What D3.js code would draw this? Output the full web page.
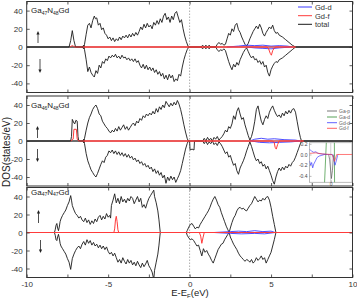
<!DOCTYPE html>
<html><head><meta charset="utf-8">
<script src="https://cdn.jsdelivr.net/npm/d3@7"></script>
<style>
body{margin:0;background:#fff}
svg{display:block;font-family:"Liberation Sans",Arial,sans-serif}
</style>
</head><body><svg id="c" width="357" height="299"></svg>
<script>
// ---------- data ----------
const xTicks = [-10,-7.5,-5,-2.5,0,2.5,5,7.5,10];
const xLabels = [-10,-5,0,5,10];
const yTicks = [-40,-20,0,20,40];
const sysLabels = [["Ga","47","N","48","Gd"],["Ga","46","N","48","Gd"],["Ga","47","N","47","Gd"]];
const legend1 = ["Gd-d","Gd-f","total"];
const legend2 = ["Ga-p","Ga-d","Gd-d","Gd-f"];
const insetTicks = [0.2,0.0,-0.2,-0.4];

// Panel 1: Ga47N48Gd  [E, DOS]
const p1Up = [[-10,0],[-7.5,0],[-7.4,0],[-7.3,7],[-7.2,18],[-7.1,7],[-7.0,0],[-6.6,0],[-6.5,-2],[-6.45,3],[-6.35,14],[-6.25,24],[-6.15,26],[-6.05,21],[-5.95,29],[-5.85,34],[-5.78,31],[-5.7,32],[-5.6,24],[-5.5,26],[-5.4,19],[-5.3,21],[-5.2,15],[-5.1,13],[-5.0,9],[-4.9,11],[-4.8,7],[-4.7,10],[-4.6,6],[-4.5,9],[-4.4,7],[-4.3,11],[-4.2,8],[-4.1,12],[-4.0,10],[-3.9,13],[-3.8,10],[-3.7,14],[-3.6,11],[-3.5,15],[-3.4,12],[-3.3,16],[-3.2,13],[-3.1,17],[-3.0,22],[-2.9,19],[-2.8,25],[-2.7,21],[-2.6,26],[-2.5,22],[-2.4,24],[-2.3,20],[-2.2,27],[-2.1,24],[-2.0,29],[-1.9,25],[-1.8,31],[-1.7,27],[-1.6,34],[-1.5,37],[-1.4,30],[-1.3,33],[-1.2,27],[-1.1,34],[-1.0,30],[-0.9,37],[-0.8,39],[-0.7,33],[-0.6,27],[-0.5,30],[-0.4,20],[-0.3,12],[-0.2,6],[-0.1,1],[0,0],[0.7,0],[0.8,2],[0.9,0],[1.0,2],[1.1,0],[1.2,2],[1.3,0],[1.6,0],[1.7,3],[1.8,5],[1.9,3],[2.0,4],[2.1,2],[2.2,3],[2.3,9],[2.4,15],[2.5,13],[2.6,20],[2.7,17],[2.8,24],[2.9,26],[3.0,19],[3.1,16],[3.2,11],[3.3,7],[3.4,3],[3.5,1],[3.6,4],[3.7,9],[3.8,13],[3.9,17],[4.0,20],[4.1,23],[4.2,20],[4.3,25],[4.4,21],[4.5,15],[4.6,12],[4.7,16],[4.8,19],[4.9,22],[5.0,20],[5.1,24],[5.2,18],[5.3,15],[5.4,16],[5.5,13],[5.7,11],[5.9,8],[6.1,5],[6.3,2],[6.5,0],[10,0]];
const p1Dn = [[-10,0],[-6.6,0],[-6.5,2],[-6.45,-3],[-6.35,-14],[-6.25,-27],[-6.15,-22],[-6.05,-28],[-5.95,-31],[-5.85,-33],[-5.75,-26],[-5.65,-29],[-5.55,-20],[-5.45,-23],[-5.35,-16],[-5.25,-18],[-5.15,-13],[-5.05,-15],[-4.95,-10],[-4.85,-12],[-4.75,-9],[-4.65,-11],[-4.55,-8],[-4.45,-12],[-4.35,-10],[-4.25,-13],[-4.15,-9],[-4.05,-12],[-3.95,-11],[-3.85,-14],[-3.75,-12],[-3.65,-15],[-3.55,-13],[-3.45,-16],[-3.35,-13],[-3.25,-17],[-3.15,-15],[-3.05,-20],[-2.95,-23],[-2.85,-19],[-2.75,-24],[-2.65,-20],[-2.55,-25],[-2.45,-22],[-2.35,-26],[-2.25,-23],[-2.15,-28],[-2.05,-25],[-1.95,-30],[-1.85,-27],[-1.75,-32],[-1.65,-29],[-1.55,-35],[-1.45,-31],[-1.35,-36],[-1.25,-30],[-1.15,-34],[-1.05,-31],[-0.95,-38],[-0.85,-35],[-0.75,-37],[-0.65,-30],[-0.55,-32],[-0.45,-22],[-0.35,-14],[-0.25,-8],[-0.15,-3],[-0.05,0],[0.7,0],[0.8,-2],[0.9,0],[1.0,-2],[1.1,0],[1.2,-2],[1.3,0],[1.6,0],[1.7,-3],[1.8,-5],[1.9,-3],[2.0,-4],[2.1,-2],[2.2,-4],[2.3,-10],[2.4,-16],[2.5,-21],[2.6,-25],[2.7,-19],[2.8,-22],[2.9,-17],[3.0,-20],[3.1,-14],[3.2,-10],[3.3,-6],[3.4,-3],[3.5,-1],[3.6,-5],[3.7,-9],[3.8,-12],[3.9,-10],[4.0,-14],[4.1,-13],[4.2,-17],[4.3,-15],[4.4,-19],[4.5,-16],[4.6,-22],[4.7,-20],[4.8,-28],[4.9,-32],[5.0,-25],[5.1,-21],[5.2,-18],[5.3,-16],[5.4,-17],[5.5,-14],[5.7,-12],[5.9,-9],[6.1,-6],[6.3,-3],[6.5,0],[10,0]];
const p1GdfUp = [[-7.35,0],[-7.2,1.5],[-7.05,0],[-6.5,0],[6.5,0]];
const p1GdfDn = [[-6.5,0],[4.75,0],[4.85,-2],[4.95,-7],[5.02,-9],[5.1,-4],[5.2,-1],[5.3,0],[6.5,0]];
const p1GddUp = [[2.3,0],[3.0,1],[3.5,2],[4.0,1.5],[4.5,2],[5.0,1],[5.5,1.5],[6.0,1],[6.3,0]];
const p1GddDn = [[3.5,0],[4.0,-1],[4.5,-1.5],[5.0,-2],[5.5,-1],[6.2,0]];

// Panel 2: Ga46N48Gd
const p2Up = [[-10,0],[-7.3,0],[-7.25,5],[-7.2,24],[-7.1,20],[-7.05,19],[-6.98,23],[-6.9,22],[-6.85,5],[-6.8,0],[-6.55,0],[-6.5,-2],[-6.45,3],[-6.35,12],[-6.25,20],[-6.15,26],[-6.05,30],[-5.95,35],[-5.85,38],[-5.75,40],[-5.65,36],[-5.55,30],[-5.45,28],[-5.35,22],[-5.25,19],[-5.15,16],[-5.05,14],[-4.95,11],[-4.85,9],[-4.75,12],[-4.65,10],[-4.55,14],[-4.45,11],[-4.35,16],[-4.25,12],[-4.15,15],[-4.05,18],[-3.95,13],[-3.85,16],[-3.75,12],[-3.65,15],[-3.55,18],[-3.45,20],[-3.35,17],[-3.25,22],[-3.15,20],[-3.05,25],[-2.95,23],[-2.85,28],[-2.75,26],[-2.65,30],[-2.55,28],[-2.45,31],[-2.35,29],[-2.25,33],[-2.15,30],[-2.05,36],[-1.95,32],[-1.85,38],[-1.75,35],[-1.65,40],[-1.55,37],[-1.45,44],[-1.35,41],[-1.25,38],[-1.15,42],[-1.05,39],[-0.95,43],[-0.85,40],[-0.75,45],[-0.65,41],[-0.55,35],[-0.45,27],[-0.35,18],[-0.25,10],[-0.15,3],[-0.08,0],[0.8,0],[0.9,3],[1.0,0],[1.1,4],[1.2,1],[1.3,3],[1.4,0],[1.5,4],[1.6,2],[1.7,5],[1.8,1],[1.9,3],[2.0,5],[2.1,8],[2.2,12],[2.3,10],[2.4,16],[2.5,14],[2.6,19],[2.7,28],[2.8,24],[2.9,33],[3.0,37],[3.1,30],[3.2,24],[3.3,26],[3.4,18],[3.5,12],[3.6,6],[3.7,1],[3.8,5],[3.9,12],[4.0,22],[4.1,35],[4.2,39],[4.3,30],[4.4,22],[4.5,18],[4.6,24],[4.7,28],[4.8,25],[4.9,32],[5.0,36],[5.1,39],[5.2,34],[5.3,30],[5.4,27],[5.5,29],[5.6,26],[5.7,31],[5.8,28],[5.9,33],[6.0,30],[6.1,34],[6.2,31],[6.3,35],[6.4,36],[6.5,32],[6.6,22],[6.7,12],[6.8,4],[6.87,0],[10,0]];
const p2Dn = [[-10,0],[-6.55,0],[-6.5,2],[-6.45,-3],[-6.35,-14],[-6.25,-22],[-6.15,-27],[-6.05,-32],[-5.95,-35],[-5.85,-38],[-5.75,-40],[-5.65,-36],[-5.55,-31],[-5.45,-26],[-5.35,-22],[-5.25,-24],[-5.15,-18],[-5.05,-16],[-4.95,-11],[-4.85,-13],[-4.75,-10],[-4.65,-14],[-4.55,-11],[-4.45,-15],[-4.35,-12],[-4.25,-16],[-4.15,-13],[-4.05,-17],[-3.95,-14],[-3.85,-18],[-3.75,-15],[-3.65,-19],[-3.55,-17],[-3.45,-21],[-3.35,-19],[-3.25,-23],[-3.15,-21],[-3.05,-25],[-2.95,-23],[-2.85,-27],[-2.75,-25],[-2.65,-29],[-2.55,-27],[-2.45,-31],[-2.35,-29],[-2.25,-34],[-2.15,-31],[-2.05,-36],[-1.95,-33],[-1.85,-38],[-1.75,-35],[-1.65,-41],[-1.55,-38],[-1.45,-47],[-1.35,-40],[-1.25,-44],[-1.15,-39],[-1.05,-43],[-0.95,-40],[-0.85,-46],[-0.75,-42],[-0.65,-38],[-0.55,-33],[-0.45,-25],[-0.35,-17],[-0.25,-9],[-0.15,-3],[-0.08,0],[0,0],[0.03,-10],[0.15,-9],[0.27,-10],[0.3,0],[0.8,0],[0.9,-3],[1.0,0],[1.1,-4],[1.2,-1],[1.3,-3],[1.4,0],[1.5,-4],[1.6,-2],[1.7,-5],[1.8,-1],[1.9,-3],[2.0,-6],[2.1,-10],[2.2,-14],[2.3,-12],[2.4,-18],[2.5,-16],[2.6,-22],[2.7,-27],[2.8,-25],[2.9,-33],[3.0,-37],[3.1,-30],[3.2,-26],[3.3,-22],[3.4,-17],[3.5,-11],[3.6,-6],[3.7,-1],[3.8,-6],[3.9,-12],[4.0,-18],[4.1,-22],[4.2,-20],[4.3,-25],[4.4,-23],[4.5,-28],[4.6,-26],[4.7,-31],[4.8,-28],[4.9,-33],[5.0,-38],[5.1,-44],[5.2,-48],[5.3,-40],[5.4,-34],[5.5,-30],[5.6,-33],[5.7,-29],[5.8,-32],[5.9,-28],[6.0,-30],[6.1,-26],[6.2,-28],[6.3,-24],[6.4,-22],[6.5,-18],[6.6,-13],[6.7,-8],[6.8,-3],[6.87,0],[10,0]];
const p2GdfUp = [[-7.3,0],[-7.15,2],[-7.1,13],[-6.95,13],[-6.9,2],[-6.8,0],[7.0,0]];
const p2GdfDn = [[-6.5,0],[5.1,0],[5.2,-2],[5.25,-7],[5.32,-9],[5.4,-4],[5.5,0],[7.0,0]];
const p2GddUp = [[3.7,0],[4.0,2],[4.4,3],[4.8,2],[5.2,2.5],[5.8,1.5],[6.5,1],[6.8,0]];
const p2GddDn = [[3.8,0],[4.3,-1.5],[4.9,-2],[5.5,-1.5],[6.2,-1],[6.8,0]];

// Panel 3: Ga47N47Gd
const p3Up = [[-10,0],[-8.3,0],[-8.25,3],[-8.2,8],[-8.15,10],[-8.1,5],[-8.05,2],[-8.0,6],[-7.95,12],[-7.9,15],[-7.8,19],[-7.7,22],[-7.6,25],[-7.5,30],[-7.4,34],[-7.3,41],[-7.25,36],[-7.2,30],[-7.1,25],[-7.0,21],[-6.9,19],[-6.8,16],[-6.7,18],[-6.6,14],[-6.5,12],[-6.4,16],[-6.3,11],[-6.2,14],[-6.1,9],[-6.0,13],[-5.9,10],[-5.8,15],[-5.7,12],[-5.6,17],[-5.5,19],[-5.4,14],[-5.3,18],[-5.2,15],[-5.1,21],[-5.0,17],[-4.9,19],[-4.85,16],[-4.8,30],[-4.7,36],[-4.6,43],[-4.5,33],[-4.4,38],[-4.3,32],[-4.2,40],[-4.1,34],[-4.0,37],[-3.9,33],[-3.8,38],[-3.7,35],[-3.6,40],[-3.5,38],[-3.4,32],[-3.3,36],[-3.2,40],[-3.1,34],[-3.0,38],[-2.9,28],[-2.8,31],[-2.7,27],[-2.6,33],[-2.5,38],[-2.4,41],[-2.3,44],[-2.2,47],[-2.15,40],[-2.05,33],[-1.95,24],[-1.88,14],[-1.83,5],[-1.8,0],[-0.2,0],[-0.15,2],[-0.05,6],[0.05,9],[0.15,10],[0.25,7],[0.35,4],[0.45,6],[0.55,5],[0.65,9],[0.75,12],[0.85,15],[0.95,18],[1.05,21],[1.15,24],[1.25,28],[1.35,33],[1.45,37],[1.55,40],[1.65,36],[1.75,31],[1.85,28],[1.95,22],[2.05,17],[2.15,12],[2.25,7],[2.35,3],[2.43,0],[2.5,5],[2.6,11],[2.7,16],[2.8,19],[2.9,24],[3.0,27],[3.1,28],[3.2,26],[3.3,27],[3.4,25],[3.5,24],[3.6,27],[3.7,30],[3.8,32],[3.9,36],[4.0,40],[4.1,37],[4.2,34],[4.3,36],[4.4,35],[4.5,38],[4.6,36],[4.7,39],[4.8,40],[4.9,36],[5.0,28],[5.1,18],[5.2,9],[5.3,0],[10,0]];
const p3Dn = [[-10,0],[-8.3,0],[-8.25,-3],[-8.2,-8],[-8.15,-9],[-8.1,-5],[-8.05,-2],[-8.0,-6],[-7.95,-12],[-7.9,-15],[-7.8,-18],[-7.7,-21],[-7.6,-24],[-7.5,-29],[-7.4,-33],[-7.3,-41],[-7.25,-35],[-7.2,-29],[-7.1,-24],[-7.0,-20],[-6.9,-17],[-6.8,-15],[-6.7,-18],[-6.6,-13],[-6.5,-10],[-6.4,-14],[-6.3,-8],[-6.2,-12],[-6.1,-9],[-6.0,-14],[-5.9,-11],[-5.8,-15],[-5.7,-13],[-5.6,-17],[-5.5,-14],[-5.4,-18],[-5.3,-15],[-5.2,-19],[-5.1,-16],[-5.0,-21],[-4.9,-24],[-4.8,-22],[-4.7,-26],[-4.6,-23],[-4.5,-28],[-4.4,-33],[-4.3,-30],[-4.2,-34],[-4.1,-28],[-4.0,-32],[-3.9,-35],[-3.8,-30],[-3.7,-34],[-3.6,-31],[-3.5,-36],[-3.4,-33],[-3.3,-37],[-3.2,-32],[-3.1,-36],[-3.0,-39],[-2.9,-34],[-2.8,-38],[-2.7,-35],[-2.6,-31],[-2.5,-37],[-2.4,-40],[-2.3,-44],[-2.2,-52],[-2.15,-42],[-2.05,-33],[-1.95,-24],[-1.88,-14],[-1.83,-5],[-1.8,0],[-0.2,0],[-0.15,-3],[-0.05,-6],[0.05,-8],[0.15,-7],[0.25,-9],[0.35,-12],[0.45,-15],[0.55,-14],[0.65,-20],[0.75,-26],[0.85,-18],[0.95,-22],[1.05,-20],[1.15,-24],[1.25,-27],[1.35,-31],[1.45,-34],[1.55,-29],[1.65,-24],[1.75,-19],[1.85,-16],[1.95,-13],[2.05,-12],[2.15,-8],[2.25,-5],[2.35,-2],[2.43,0],[2.5,-5],[2.6,-9],[2.7,-13],[2.8,-16],[2.9,-19],[3.0,-23],[3.1,-26],[3.2,-28],[3.3,-30],[3.4,-32],[3.5,-30],[3.6,-31],[3.7,-33],[3.8,-30],[3.9,-34],[4.0,-32],[4.1,-28],[4.2,-31],[4.3,-29],[4.4,-26],[4.5,-30],[4.6,-28],[4.7,-34],[4.8,-30],[4.9,-26],[5.0,-22],[5.1,-15],[5.2,-8],[5.3,0],[10,0]];
const p3GdfUp = [[-10,0],[-4.65,0],[-4.6,4],[-4.55,14],[-4.5,18],[-4.45,12],[-4.4,3],[-4.35,0],[10,0]];
const p3GdfDn = [[-10,0],[0.6,0],[0.68,-4],[0.75,-12],[0.82,-6],[0.9,0],[10,0]];
const p3GddUp = [[1.5,0],[2.5,1],[3.0,1.5],[3.5,1],[4.0,2],[4.5,1],[5.0,1.5],[5.25,0]];
const p3GddDn = [[1.5,0],[2.5,-1],[3.2,-1.5],[4.0,-1],[4.6,-1.5],[5.25,0]];

// Inset (panel 2), [E, DOS]
const inGddUp = [[-1,0.1],[-0.9,0.06],[-0.8,0.04],[-0.7,0.05],[-0.6,0.02],[-0.4,0.01],[-0.2,0]];
const inGddDn = [[-1,-0.12],[-0.95,-0.2],[-0.9,-0.15],[-0.85,-0.25],[-0.8,-0.18],[-0.72,-0.12],[-0.65,-0.06],[-0.55,-0.03],[-0.45,-0.02],[-0.3,0],[0.08,0],[0.14,-0.08],[0.2,-0.2],[0.26,-0.12],[0.32,-0.02],[0.36,0]];
const inGdf = [[-1,0.02],[-0.7,0.03],[-0.4,0.01],[0,0],[0.05,0],[0.12,-0.05],[0.17,-0.13],[0.22,-0.08],[0.28,0],[1,0]];
const inGad = [[-0.3,-0.6],[-0.2,0.3],[0.17,0.3],[0.18,-0.6]];
const inGap = [[-0.1,0],[-0.05,-0.1],[0.03,-0.45],[0.08,-0.3],[0.12,-0.05],[0.15,0]];

// ---------- drawing ----------
const C = {total:"#1a1a1a", gdd:"#3a3aff", gdf:"#ff3b3b", gap:"#555", gad:"#2e8b2e"};
const svg = d3.select("#c");
const x = d3.scaleLinear().domain([-10,10]).range([26.7,352.5]);
const frames = [[1.5,92.5],[96,186],[187.5,277.5]];
const pdata = [
  {up:p1Up, dn:p1Dn, gfu:p1GdfUp, gfd:p1GdfDn, gdu:p1GddUp, gdd:p1GddDn},
  {up:p2Up, dn:p2Dn, gfu:p2GdfUp, gfd:p2GdfDn, gdu:p2GddUp, gdd:p2GddDn},
  {up:p3Up, dn:p3Dn, gfu:p3GdfUp, gfd:p3GdfDn, gdu:p3GddUp, gdd:p3GddDn}
];
const labelY = [13,108,194.5];
const arrows = [[38,43,31,40,59,73],[37.5,138,126,37.5,149,162],[38.5,223,210,40.5,240,253]];

pdata.forEach((p,i)=>{
  const [t,b] = frames[i];
  const y = d3.scaleLinear().domain([-50,50]).range([b,t]);
  const g = svg.append("g");
  const cid = "clip"+i;
  svg.append("clipPath").attr("id",cid).append("rect")
    .attr("x",x(-10)).attr("y",t).attr("width",x(10)-x(-10)).attr("height",b-t);
  const line = d3.line().x(d=>x(d[0])).y(d=>y(d[1]));
  const pg = g.append("g").attr("clip-path",`url(#${cid})`);
  pg.append("line").attr("x1",x(-10)).attr("x2",x(10)).attr("y1",y(0)).attr("y2",y(0))
    .attr("stroke","#444").attr("stroke-width",0.8);
  pg.append("line").attr("x1",x(0)).attr("x2",x(0)).attr("y1",t).attr("y2",b)
    .attr("stroke","#999").attr("stroke-width",0.8).attr("stroke-dasharray","1.5,1.5");
  [p.up,p.dn].forEach(s=>pg.append("path").attr("d",line(s)).attr("fill","none")
    .attr("stroke",C.total).attr("stroke-width",0.9));
  [p.gdu,p.gdd].forEach(s=>pg.append("path").attr("d",line(s)).attr("fill","none")
    .attr("stroke",C.gdd).attr("stroke-width",0.9));
  [p.gfu,p.gfd].forEach(s=>pg.append("path").attr("d",line(s)).attr("fill","none")
    .attr("stroke",C.gdf).attr("stroke-width",1));
  // frame
  g.append("rect").attr("x",x(-10)).attr("y",t).attr("width",x(10)-x(-10)).attr("height",b-t)
    .attr("fill","none").attr("stroke","#333").attr("stroke-width",1);
  const last = i===2;
  const ax = g.append("g").attr("transform",`translate(0,${b})`)
    .call(d3.axisBottom(x).tickValues(xTicks).tickSizeInner(-3).tickSizeOuter(0).tickPadding(4)
      .tickFormat(d=> last && xLabels.includes(d) ? String(d) : ""));
  const axT = g.append("g").attr("transform",`translate(0,${t})`)
    .call(d3.axisTop(x).tickValues(xTicks).tickSizeInner(-3).tickSizeOuter(0).tickFormat(""));
  const ay = g.append("g").attr("transform",`translate(${x(-10)},0)`)
    .call(d3.axisLeft(y).tickValues(yTicks).tickSizeInner(-3).tickSizeOuter(0).tickPadding(4)
      .tickFormat(d=>String(d)));
  const ayR = g.append("g").attr("transform",`translate(${x(10)},0)`)
    .call(d3.axisRight(y).tickValues(yTicks).tickSizeInner(-3).tickSizeOuter(0).tickFormat(""));
  [ax,axT,ay,ayR].forEach(a=>{
    a.select(".domain").remove();
    a.selectAll("line").attr("stroke","#333").attr("stroke-width",0.8);
    a.selectAll("text").attr("fill","#333").style("font-size","8px").style("font-family","Liberation Sans, Arial, sans-serif");
  });
  // system label
  const L = sysLabels[i];
  const tx = g.append("text").attr("x",31).attr("y",labelY[i]).attr("fill","#222").style("font-size","8px");
  tx.append("tspan").text(L[0]);
  tx.append("tspan").text(L[1]).style("font-size","5px").attr("dy",1.8);
  tx.append("tspan").text(L[2]).attr("dy",-1.8);
  tx.append("tspan").text(L[3]).style("font-size","5px").attr("dy",1.8);
  tx.append("tspan").text(L[4]).attr("dy",-1.8);
  // spin arrows
  const a = arrows[i];
  const arr = (ax0,y0,y1)=>{
    const dir = y1<y0 ? -1 : 1;
    g.append("line").attr("x1",ax0).attr("x2",ax0).attr("y1",y0).attr("y2",y1-dir*2.5)
      .attr("stroke","#222").attr("stroke-width",0.8);
    g.append("path").attr("d",`M${ax0},${y1} L${ax0-1.6},${y1-dir*3.5} L${ax0+1.6},${y1-dir*3.5} Z`).attr("fill","#222");
  };
  arr(a[0],a[1],a[2]); arr(a[3],a[4],a[5]);

  if(i===0){
    const lc=[C.gdd,C.gdf,C.total], ly=[7,15.7,24.3];
    legend1.forEach((n,k)=>{
      g.append("line").attr("x1",298).attr("x2",312).attr("y1",ly[k]).attr("y2",ly[k])
        .attr("stroke",lc[k]).attr("stroke-width",1);
      g.append("text").attr("x",315).attr("y",ly[k]+2.8).text(n).attr("fill","#333").style("font-size","7.5px");
    });
  }
  if(i===1){
    const lc=[C.gap,C.gad,C.gdd,C.gdf], ly=[111,117,122.7,128.3];
    legend2.forEach((n,k)=>{
      g.append("line").attr("x1",327).attr("x2",337).attr("y1",ly[k]).attr("y2",ly[k])
        .attr("stroke",lc[k]).attr("stroke-width",0.8);
      g.append("text").attr("x",339).attr("y",ly[k]+1.8).text(n).attr("fill","#666").style("font-size","5px");
    });
    // inset
    const ix = d3.scaleLinear().domain([-1,1]).range([309.5,352]);
    const iy = d3.scaleLinear().domain([-0.52,0.22]).range([182.3,142.7]);
    const ig = g.append("g");
    ig.append("rect").attr("x",309.5).attr("y",142.7).attr("width",42.5).attr("height",39.6)
      .attr("fill","#fff").attr("stroke","#aaa").attr("stroke-width",0.8);
    ig.append("clipPath").attr("id","iclip").append("rect").attr("x",309.5).attr("y",142.7).attr("width",42.5).attr("height",39.6);
    const ic = ig.append("g").attr("clip-path","url(#iclip)");
    const il = d3.line().x(d=>ix(d[0])).y(d=>iy(d[1]));
    ic.append("line").attr("x1",ix(0)).attr("x2",ix(0)).attr("y1",142.7).attr("y2",182.3)
      .attr("stroke","#bbb").attr("stroke-width",0.7);
    [[inGad,C.gad],[inGap,C.gap],[inGddUp,C.gdd],[inGddDn,C.gdd],[inGdf,C.gdf]].forEach(([s,c])=>
      ic.append("path").attr("d",il(s)).attr("fill","none").attr("stroke",c).attr("stroke-width",0.8).attr("opacity",0.85));
    const iay = ig.append("g").attr("transform","translate(309.5,0)")
      .call(d3.axisLeft(iy).tickValues(insetTicks).tickSizeInner(-2).tickSizeOuter(0).tickPadding(2)
        .tickFormat(d3.format(".1f")));
    const iax = ig.append("g").attr("transform","translate(0,182.3)")
      .call(d3.axisBottom(ix).tickValues([0]).tickSizeInner(-2).tickSizeOuter(0).tickPadding(0.5).tickFormat(d=>String(d)));
    [iay,iax].forEach(a=>{
      a.select(".domain").remove();
      a.selectAll("line").attr("stroke","#888").attr("stroke-width",0.6);
      a.selectAll("text").attr("fill","#444").style("font-size","5px");
    });
    iay.selectAll("text").text(d=>d3.format(".1f")(d).replace("−","-"));
  }
});

// axis titles
svg.append("text").attr("transform","translate(10,152) rotate(-90)").attr("text-anchor","middle")
  .attr("fill","#222").style("font-size","10px").text("DOS(states/eV)");
const xt = svg.append("text").attr("x",190).attr("y",296).attr("text-anchor","middle")
  .attr("fill","#222").style("font-size","9.5px");
xt.append("tspan").text("E-E");
xt.append("tspan").text("F").style("font-size","6px").attr("dy",2);
xt.append("tspan").text("(eV)").attr("dy",-2);
</script>
</body></html>
